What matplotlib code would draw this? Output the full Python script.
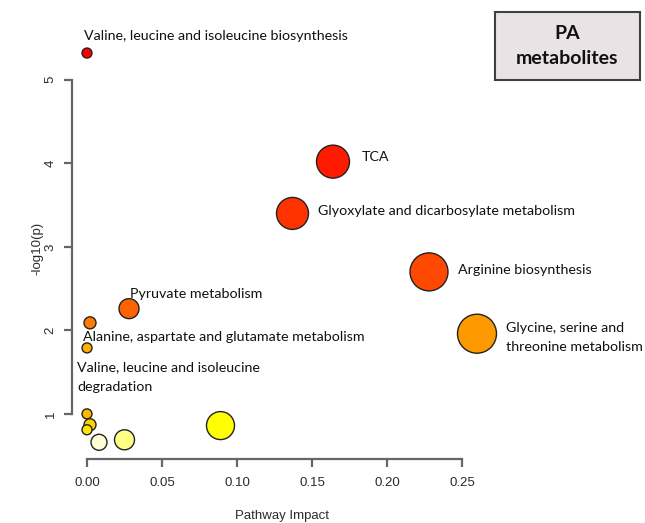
import matplotlib
matplotlib.use("Agg")
import matplotlib.pyplot as plt
from matplotlib.patches import Rectangle

# pathway topology results
impact = [0.000, 0.164, 0.137, 0.228, 0.260, 0.028, 0.002, 0.000,
          0.000, 0.002, 0.000, 0.008, 0.025, 0.089]
logp = [5.32, 4.02, 3.40, 2.70, 1.96, 2.26, 2.09, 1.79,
        1.00, 0.87, 0.81, 0.66, 0.69, 0.86]
colors = ["#ff0000", "#ff1a00", "#ff3300", "#ff4800", "#ff9900", "#ff6200", "#ff7c00", "#ffb000",
          "#ffb800", "#ffd000", "#ffe600", "#ffffd6", "#ffff85", "#ffff00"]
radius_px = [5, 16.5, 16, 19, 19.5, 10, 6, 5, 5, 6, 5, 8, 10, 14]

labels = ["Valine, leucine and isoleucine biosynthesis",
          "TCA",
          "Glyoxylate and dicarbosylate metabolism",
          "Arginine biosynthesis",
          "Glycine, serine and\nthreonine metabolism",
          "Pyruvate metabolism",
          "Alanine, aspartate and glutamate metabolism",
          "Valine, leucine and isoleucine\ndegradation"]
label_xy = [(-0.002, 5.52), (0.183, 4.07), (0.154, 3.43), (0.247, 2.72),
            (0.279, 1.91), (0.029, 2.44), (-0.0027, 1.92), (-0.0067, 1.44)]

W, H = 645, 523
fig = plt.figure(figsize=(W / 100, H / 100), dpi=100)
ax = fig.add_axes([72 / W, 1 - 459 / H, 420 / W, 421 / H])

sizes = [(2 * r * 0.72) ** 2 for r in radius_px]
ax.scatter(impact, logp, s=sizes, c=colors, edgecolors="#222222", linewidths=1.0,
           zorder=3, clip_on=False)

ax.set_xlim(-0.01, 0.27)
ax.set_ylim(0.46, 5.5)

for s in ["top", "right"]:
    ax.spines[s].set_visible(False)
ax.spines["left"].set_bounds(1, 5)
ax.spines["bottom"].set_bounds(0, 0.25)
for s in ["left", "bottom"]:
    ax.spines[s].set_color("#666666")
    ax.spines[s].set_linewidth(1.6)

ax.set_xticks([0, 0.05, 0.10, 0.15, 0.20, 0.25])
ax.set_xticklabels(["0.00", "0.05", "0.10", "0.15", "0.20", "0.25"])
ax.set_yticks([1, 2, 3, 4, 5])
ax.tick_params(axis="both", direction="out", length=6, width=1.6, color="#666666",
               labelcolor="#2b2b2b", labelsize=9.5)
ax.tick_params(axis="x", pad=7)
ax.tick_params(axis="y", pad=5)
for t in ax.get_xticklabels() + ax.get_yticklabels():
    t.set_family("Liberation Sans")
for t in ax.get_yticklabels():
    t.set_rotation(90)
    t.set_va("center")

ax.set_xlabel("Pathway Impact", fontsize=9.5, color="#2b2b2b", labelpad=15,
              family="Liberation Sans")
ax.set_ylabel("-log10(p)", fontsize=9.5, color="#2b2b2b", labelpad=1,
              family="Liberation Sans")

for txt, (tx, ty) in zip(labels, label_xy):
    ax.text(tx, ty, txt, ha="left", va="center", fontsize=10.3, family="Lato",
            color="#111111", linespacing=1.7, clip_on=False)

# title box
fig.patches.append(Rectangle((495 / W, 1 - 80 / H), 145 / W, 68 / H, transform=fig.transFigure,
                             facecolor="#e9e3e6", edgecolor="#404040", linewidth=1.5))
fig.text(567 / W, 1 - 46 / H, "PA\nmetabolites", ha="center", va="center", fontsize=14,
         fontweight="bold", family="Lato", color="#111111", linespacing=1.6)

fig.savefig("out.png", dpi=100)
